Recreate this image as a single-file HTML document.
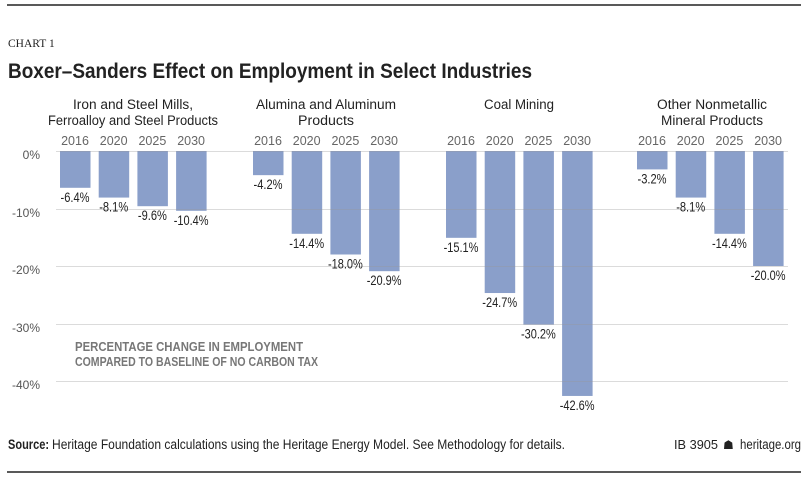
<!DOCTYPE html>
<html><head><meta charset="utf-8"><style>
body{margin:0;background:#fff;}
svg{display:block;font-family:"Liberation Sans",sans-serif;}
</style></head><body>
<svg width="808" height="479" viewBox="0 0 808 479">
<line x1="7" y1="5" x2="801" y2="5" stroke="#222" stroke-width="1.5"/>
<text x="8" y="47" font-family="Liberation Serif,serif" font-size="11.5" fill="#222">CHART 1</text>
<text x="8" y="78" font-size="21" font-weight="bold" fill="#222" textLength="524" lengthAdjust="spacingAndGlyphs">Boxer–Sanders Effect on Employment in Select Industries</text>
<g font-size="13.5" fill="#222" text-anchor="middle">
<text x="133" y="109" textLength="120" lengthAdjust="spacingAndGlyphs">Iron and Steel Mills,</text>
<text x="133" y="125" textLength="170" lengthAdjust="spacingAndGlyphs">Ferroalloy and Steel Products</text>
<text x="326" y="109" textLength="140" lengthAdjust="spacingAndGlyphs">Alumina and Aluminum</text>
<text x="326" y="125" textLength="56" lengthAdjust="spacingAndGlyphs">Products</text>
<text x="519" y="109" textLength="70" lengthAdjust="spacingAndGlyphs">Coal Mining</text>
<text x="712" y="109" textLength="110" lengthAdjust="spacingAndGlyphs">Other Nonmetallic</text>
<text x="712" y="125" textLength="102" lengthAdjust="spacingAndGlyphs">Mineral Products</text>
</g>
<g font-size="12.5" fill="#666" text-anchor="middle" id="yrs"></g>
<g font-size="12" fill="#555" text-anchor="end">
<text x="40" y="159">0%</text>
<text x="40" y="217">-10%</text>
<text x="40" y="274">-20%</text>
<text x="40" y="332">-30%</text>
<text x="40" y="389">-40%</text>
</g>
<g id="bars"></g>
<g stroke="#999" stroke-opacity="0.35" stroke-width="1">
<line x1="56" y1="151.5" x2="788" y2="151.5"/>
<line x1="56" y1="209.5" x2="788" y2="209.5"/>
<line x1="56" y1="266.5" x2="788" y2="266.5"/>
<line x1="56" y1="324.5" x2="788" y2="324.5"/>
<line x1="56" y1="381.5" x2="788" y2="381.5"/>
</g>
<g id="labs" font-size="14" fill="#222" text-anchor="middle"></g>
<g font-size="13" font-weight="bold" fill="#777">
<text x="75" y="351" textLength="228" lengthAdjust="spacingAndGlyphs">PERCENTAGE CHANGE IN EMPLOYMENT</text>
<text x="75" y="366" textLength="243" lengthAdjust="spacingAndGlyphs">COMPARED TO BASELINE OF NO CARBON TAX</text>
</g>
<text x="8" y="449" font-size="13.5" font-weight="bold" fill="#222" textLength="41" lengthAdjust="spacingAndGlyphs">Source:</text>
<text x="52" y="449" font-size="13.5" fill="#222" textLength="513" lengthAdjust="spacingAndGlyphs">Heritage Foundation calculations using the Heritage Energy Model. See Methodology for details.</text>
<text x="674" y="449" font-size="13" fill="#222" textLength="44" lengthAdjust="spacingAndGlyphs">IB 3905</text>
<text x="723" y="449" font-size="12" fill="#222">☗</text>
<text x="740" y="449" font-size="13.5" fill="#222" textLength="61" lengthAdjust="spacingAndGlyphs">heritage.org</text>
<line x1="7" y1="472" x2="801" y2="472" stroke="#222" stroke-width="1.5"/>
</svg>
<script>
var data=[[-6.4,-8.1,-9.6,-10.4],[-4.2,-14.4,-18.0,-20.9],[-15.1,-24.7,-30.2,-42.6],[-3.2,-8.1,-14.4,-20.0]];
var g0=[60,253,446,637],yrs=["2016","2020","2025","2030"],ns="http://www.w3.org/2000/svg";
function el(t,a,p,txt){var e=document.createElementNS(ns,t);for(var k in a)e.setAttribute(k,a[k]);if(txt)e.textContent=txt;document.getElementById(p).appendChild(e);}
for(var i=0;i<4;i++)for(var j=0;j<4;j++){var x=g0[i]+j*38.7,v=data[i][j],h=-v*5.75;
el("rect",{x:x,y:151,width:30.5,height:h,fill:"#8a9fca"},"bars");
el("text",{x:x+15,y:145},"yrs",yrs[j]);
var s=v.toFixed(1)+"%";
el("text",{x:x+15,y:151+h+14,textLength:s.length*5.8,lengthAdjust:"spacingAndGlyphs"},"labs",s);}
</script>
</body></html>
